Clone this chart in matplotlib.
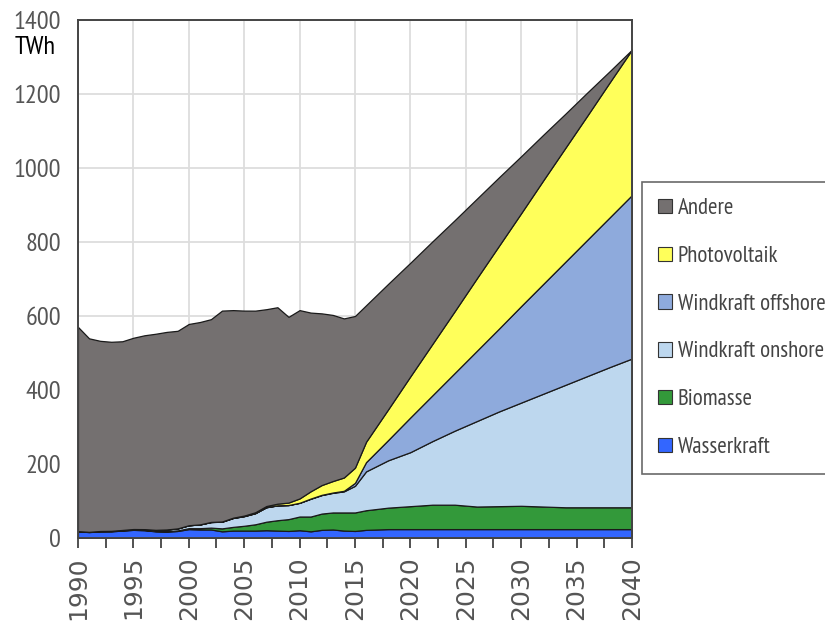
# Stromerzeugung nach Quellen, 1990-2040 (gestapelte Flächen)
import numpy as np
import matplotlib.pyplot as plt
from matplotlib.ticker import MultipleLocator
from matplotlib.patches import Patch

plt.rcParams.update({
    "font.family": ["PT Sans Narrow", "DejaVu Sans"],
    "axes.linewidth": 1.4,
})

# Daten (TWh)
years = list(range(1990, 2017)) + list(range(2018, 2041, 2))

wasserkraft = [18, 16, 18, 18, 20, 22, 21, 18, 17, 19,
               24, 23, 23, 18, 20, 20, 20, 21, 20, 19,
               21, 18, 22, 23, 20, 19, 22,
               24, 24, 24, 24, 24, 24, 24, 24, 24, 24, 24, 24]
biomasse = [0.5, 0.5, 0.6, 0.7, 0.8, 0.7, 0.9, 1.0, 1.5, 1.5,
            2.5, 3.5, 5, 8, 10, 13, 17, 23, 28, 32,
            37, 40, 44, 46, 49, 50, 53,
            58, 62, 66, 66, 61, 62, 63, 61, 59, 59, 59, 59]
wind_onshore = [0, 0.1, 0.3, 0.6, 0.9, 1.5, 2, 3, 4.5, 5.5,
                8, 10, 15, 18, 24, 26, 30, 39, 40, 38,
                37, 48, 50, 53, 57, 72, 105,
                128, 146, 172, 200, 231, 256, 279, 305, 331, 355, 379, 402]
wind_offshore = [0, 0, 0, 0, 0, 0, 0, 0, 0, 0,
                 0, 0.1, 0.2, 0.3, 0.3, 0.3, 0.3, 0.3, 0.3, 0.1,
                 0.2, 0.6, 0.7, 0.9, 1.5, 8, 25,
                 55, 94, 124, 156, 190, 224, 261, 297, 333, 369, 405, 442]
photovoltaik = [0, 0, 0, 0, 0, 0, 0, 0, 0, 0,
                0, 0.1, 0.2, 0.3, 0.6, 1.3, 2.2, 3.1, 4.4, 6.6,
                11.7, 19.6, 26.4, 31, 36, 41, 55,
                83, 111, 139, 167, 196, 224, 251, 280, 308, 336, 365, 393]
andere = [552, 523, 514, 511, 510, 517, 524, 530, 534, 534,
          544, 547, 548, 570, 561, 554, 545, 532, 531, 502,
          509, 483, 464, 449, 430, 410, 369,
          339, 307, 277, 246, 215, 185, 154, 123, 92, 62, 30, 0]

labels = ["Wasserkraft", "Biomasse", "Windkraft onshore",
          "Windkraft offshore", "Photovoltaik", "Andere"]
colors = ["#3366FF", "#33993A", "#BDD7EE", "#8EAADC", "#FFFF5A", "#747070"]

fig = plt.figure(figsize=(8.25, 6.26), dpi=100)
ax = fig.add_axes([0.0945, 0.1406, 0.6715, 0.8274])

ax.stackplot(years, wasserkraft, biomasse, wind_onshore, wind_offshore,
             photovoltaik, andere, colors=colors, edgecolor="#1a1a1a",
             linewidth=0.9, zorder=3)

ax.set_xlim(1990, 2040)
ax.set_ylim(0, 1400)
ax.xaxis.set_major_locator(MultipleLocator(5))
ax.xaxis.set_minor_locator(MultipleLocator(2.5))
ax.yaxis.set_major_locator(MultipleLocator(200))
ax.grid(True, which="major", color="#dddddd", linewidth=1.3, zorder=0)
ax.set_axisbelow(True)

for s in ax.spines.values():
    s.set_color("#444444")
    s.set_zorder(5)

ax.tick_params(axis="x", which="both", direction="out", length=7,
               width=1.1, color="#222222")
ax.tick_params(axis="x", which="major", labelrotation=90, pad=6,
               labelsize=18, labelcolor="#555555")
ax.tick_params(axis="y", length=0, pad=12, labelsize=19,
               labelcolor="#555555")
for lbl in ax.get_xticklabels():
    lbl.set_family("DejaVu Sans")

fig.text(56 / 825, 1 - 48 / 626, "TWh", ha="right", va="center",
         fontsize=19, color="black")

# Legende (oben: Andere)
handles = [Patch(facecolor=c, edgecolor="#333333", linewidth=0.8)
           for c in colors][::-1]
leg = fig.legend(handles, labels[::-1], loc="upper left",
                 bbox_to_anchor=(642 / 825, 1 - 182 / 626),
                 fontsize=16.5, frameon=True, fancybox=False,
                 handlelength=0.6, handleheight=0.6, handletextpad=0.25,
                 labelspacing=1.17, borderpad=0.7, borderaxespad=0,
                 labelcolor="#444444")
leg.get_frame().set_edgecolor("#444444")
leg.get_frame().set_linewidth(1.2)

fig.savefig("out.png", dpi=100)
